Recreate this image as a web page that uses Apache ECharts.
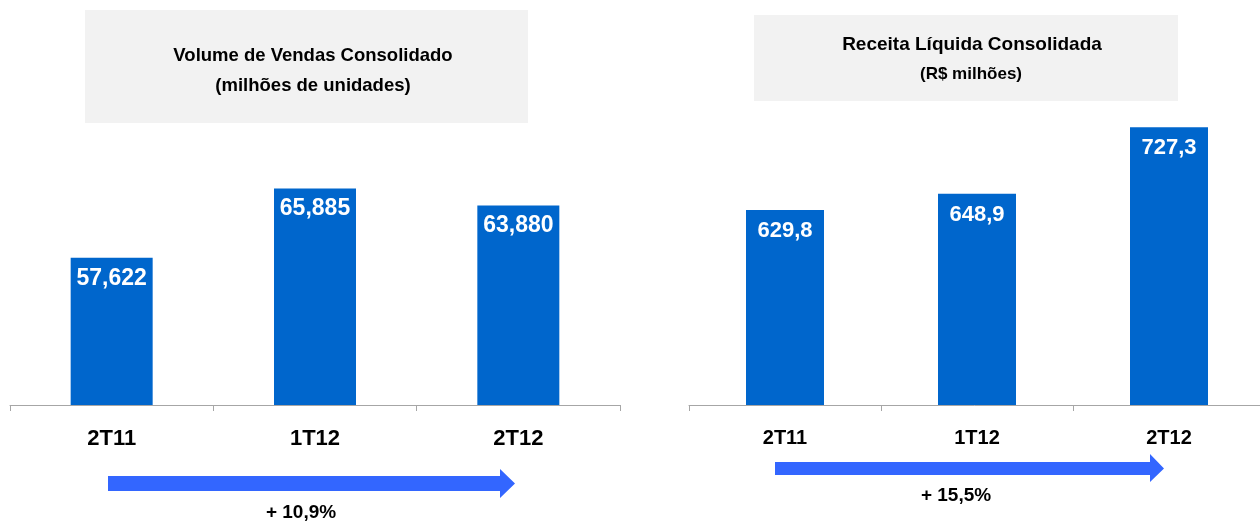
<!DOCTYPE html>
<html>
<head>
<meta charset="utf-8">
<script src="https://cdn.jsdelivr.net/npm/echarts@6/dist/echarts.min.js"></script>
<style>
html,body{margin:0;padding:0;background:#fff;}
#c{width:1260px;height:523px;}
</style>
</head>
<body>
<div id="c"></div>
<script>
// Data
const categories = ['2T11', '1T12', '2T12'];
const volumeValues = [57.622, 65.885, 63.880];
const revenueValues = [629.8, 648.9, 727.3];
const volumeTitle = ['Volume de Vendas Consolidado', '(milhões de unidades)'];
const revenueTitle = ['Receita Líquida Consolidada', '(R$ milhões)'];
const volumeGrowth = '+ 10,9%';
const revenueGrowth = '+ 15,5%';

const FONT = '"Liberation Sans", Arial, sans-serif';
const BAR = '#0066cc';
const ARROW = '#3366ff';

function fmt(v, d) { return v.toFixed(d).replace('.', ','); }

const chart = echarts.init(document.getElementById('c'), null, {renderer: 'canvas'});

function xAxisCfg(gridIndex, fontSize) {
  return {
    type: 'category', gridIndex, data: categories, boundaryGap: true,
    axisLine: {show: true, lineStyle: {color: '#a6a6a6', width: 1}},
    axisTick: {show: true, inside: false, length: 6, alignWithLabel: false, lineStyle: {color: '#a6a6a6'}},
    axisLabel: {show: true, margin: 23, color: '#000', fontFamily: FONT, fontWeight: 'bold', fontSize: fontSize, interval: 0},
    splitLine: {show: false}
  };
}

function yAxisCfg(gridIndex, min, max) {
  return {type: 'value', gridIndex, min, max, show: false, splitLine: {show: false}};
}

function arrow(x0, x1, xb, yTop, yBot, hTop, hBot) {
  const yMid = (yTop + yBot) / 2;
  return {
    type: 'polygon',
    shape: {points: [[x0, yTop], [xb, yTop], [xb, hTop], [x1, yMid], [xb, hBot], [xb, yBot], [x0, yBot]]},
    style: {fill: ARROW}
  };
}

const option = {
  backgroundColor: '#fff',
  animation: false,
  grid: [
    {left: 10, width: 610, top: 137.5, height: 267.5, outerBoundsMode: 'none', containLabel: false},
    {left: 689, width: 576, top: 116.5, height: 288.5, outerBoundsMode: 'none', containLabel: false}
  ],
  xAxis: [xAxisCfg(0, 22), xAxisCfg(1, 20)],
  yAxis: [yAxisCfg(0, 40, 72), yAxisCfg(1, 400, 740)],
  series: [
    {
      type: 'bar', xAxisIndex: 0, yAxisIndex: 0, data: volumeValues, barWidth: 82,
      itemStyle: {color: BAR},
      label: {show: true, position: 'insideTop', distance: 9, color: '#fff', fontFamily: FONT, fontWeight: 'bold', fontSize: 23,
        formatter: p => fmt(p.value, 3)}
    },
    {
      type: 'bar', xAxisIndex: 1, yAxisIndex: 1, data: revenueValues, barWidth: 78,
      itemStyle: {color: BAR},
      label: {show: true, position: 'insideTop', distance: 10, color: '#fff', fontFamily: FONT, fontWeight: 'bold', fontSize: 22,
        formatter: p => fmt(p.value, 1)}
    }
  ],
  graphic: [
    {type: 'rect', shape: {x: 85, y: 10, width: 443, height: 113}, style: {fill: '#f2f2f2'}},
    {type: 'text', x: 313, y: 56, style: {text: volumeTitle[0], fill: '#000', font: 'bold 18.5px ' + FONT, textAlign: 'center', textVerticalAlign: 'middle'}},
    {type: 'text', x: 313, y: 86, style: {text: volumeTitle[1], fill: '#000', font: 'bold 18.5px ' + FONT, textAlign: 'center', textVerticalAlign: 'middle'}},
    {type: 'rect', shape: {x: 754, y: 15, width: 424, height: 86}, style: {fill: '#f2f2f2'}},
    {type: 'text', x: 972, y: 45, style: {text: revenueTitle[0], fill: '#000', font: 'bold 19px ' + FONT, textAlign: 'center', textVerticalAlign: 'middle'}},
    {type: 'text', x: 971, y: 74, style: {text: revenueTitle[1], fill: '#000', font: 'bold 17px ' + FONT, textAlign: 'center', textVerticalAlign: 'middle'}},
    arrow(108, 515, 500, 476, 491, 469, 498),
    {type: 'text', x: 301, y: 513, style: {text: volumeGrowth, fill: '#000', font: 'bold 19px ' + FONT, textAlign: 'center', textVerticalAlign: 'middle'}},
    arrow(775, 1164, 1150, 462, 475, 454, 482),
    {type: 'text', x: 956, y: 496, style: {text: revenueGrowth, fill: '#000', font: 'bold 19px ' + FONT, textAlign: 'center', textVerticalAlign: 'middle'}}
  ]
};
chart.setOption(option);
</script>
</body>
</html>
